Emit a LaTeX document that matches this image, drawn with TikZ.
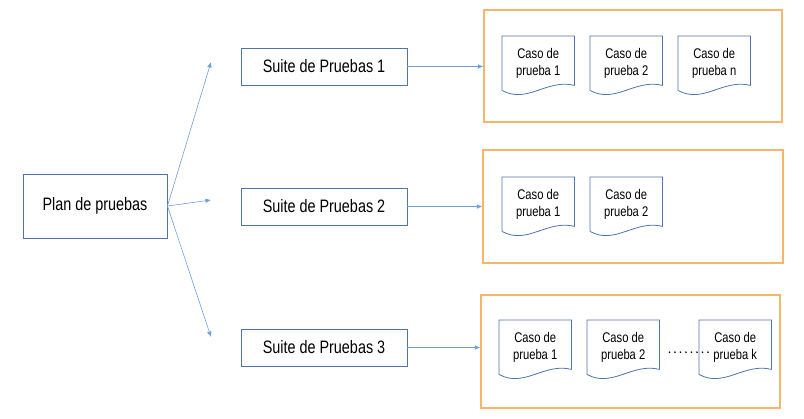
\documentclass[tikz,border=0pt]{standalone}
\usepackage{fontspec}
\setmainfont{Liberation Sans}[FakeStretch=0.8]
\usetikzlibrary{arrows.meta}
\definecolor{boxblue}{RGB}{79,116,171}
\definecolor{linkblue}{RGB}{110,160,215}
\definecolor{suiteorange}{RGB}{249,181,105}
\tikzset{
  pbox/.style={draw=boxblue, line width=0.9pt, inner sep=0pt, font=\fontsize{18}{20}\selectfont},
  caso/.style={inner sep=0pt, minimum width=72pt, minimum height=54pt, align=center, font=\fontsize{14}{17}\selectfont},
  group/.style={draw=suiteorange, line width=1.2pt},
  link/.style={draw=linkblue, line width=0.6pt, -{Latex[length=5.5pt,width=4.5pt]}},
}
\newcommand\casoshape[1]{%
  \draw[boxblue, line width=0.8pt]
    ([yshift=5pt]#1.south east) -- (#1.north east) -- (#1.north west) -- (#1.south west)
    .. controls +(25,14) and +(-27,-7) .. ([yshift=5pt]#1.south east);}

\begin{document}
\begin{tikzpicture}[x=1pt, y=-1pt, line cap=round]
  \useasboundingbox (0,0) rectangle (804,419);
  \node[pbox, minimum width=144pt, minimum height=64pt] (plan) at (95,206) {Plan de pruebas};
  \node[pbox, minimum width=166pt, minimum height=37pt] (s1) at (324,66.5) {Suite de Pruebas 1};
  \node[pbox, minimum width=166pt, minimum height=37pt] (s2) at (324,206.5) {Suite de Pruebas 2};
  \node[pbox, minimum width=166pt, minimum height=37pt] (s3) at (324,347.5) {Suite de Pruebas 3};
  \node[group, minimum width=298pt, minimum height=112pt] (g1) at (633,66) {};
  \node[group, minimum width=300pt, minimum height=113pt] (g2) at (633,206.5) {};
  \node[group, minimum width=299pt, minimum height=113pt] (g3) at (630.5,351.5) {};
  \coordinate (t1) at (211,62);
  \coordinate (t2) at (211,200);
  \coordinate (t3) at (211,337);
  \foreach \t in {t1,t2,t3}
    \draw[link] (plan.east) -- (\t);
  \foreach \s/\g in {s1/g1,s2/g2,s3/g3}
    \draw[link] (\s.east) -- (\s.east -| \g.west);
  \foreach \n/\x/\y/\k in {c11/502/36/1, c12/590/36/2, c13/678/36/n,
                           c21/502/177/1, c22/590/177/2,
                           c31/499/320/1, c32/587/320/2, c33/699/320/k}{
    \node[caso, anchor=north west] (\n) at (\x,\y) {Caso de\\prueba \k};
    \casoshape{\n}
  }
  \draw[black, line width=1.8pt, dash pattern=on 0pt off 5.5pt]
    ([xshift=10pt,yshift=-5pt]c32.east) -- ([xshift=10pt,yshift=-5pt]c33.west);
\end{tikzpicture}
\end{document}
